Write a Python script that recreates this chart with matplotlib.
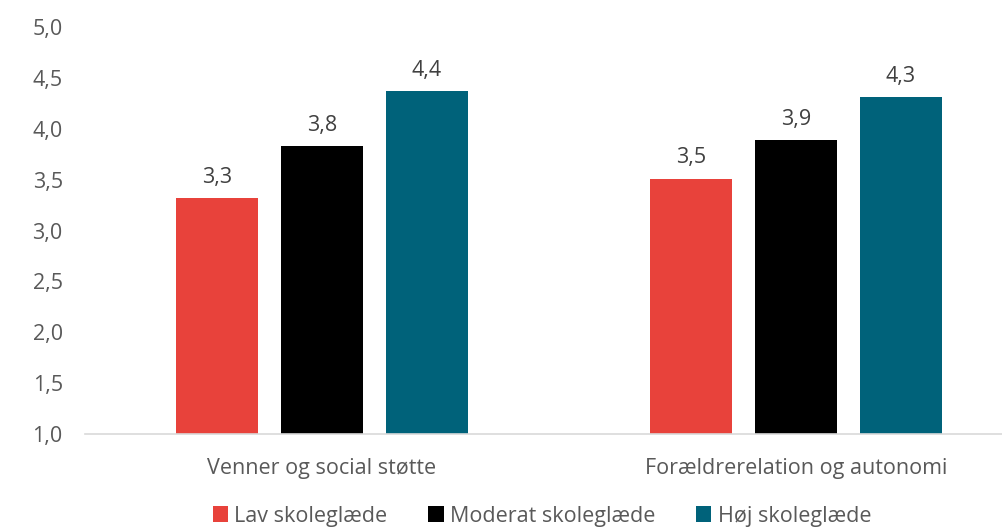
import numpy as np
import matplotlib.pyplot as plt

plt.rcParams['font.family'] = ['Open Sans', 'DejaVu Sans']

categories = ['Venner og social støtte', 'Forældrerelation og autonomi']
series = ['Lav skoleglæde', 'Moderat skoleglæde', 'Høj skoleglæde']
values = [
    [3.32, 3.51],  # lav
    [3.83, 3.89],  # moderat
    [4.37, 4.31],  # høj
]
colors = ['#E8423B', '#000000', '#00627A']
yticks = [1.0, 1.5, 2.0, 2.5, 3.0, 3.5, 4.0, 4.5, 5.0]

my_dpi = 100
fig = plt.figure(figsize=(1002/my_dpi, 529/my_dpi), dpi=my_dpi)
ax = fig.add_axes([85/1002, (529-434)/529, (1002-85)/1002, (434-27)/529])

x = np.arange(len(categories))
width = 0.173
step = 0.2215
for i, (vals, col, name) in enumerate(zip(values, colors, series)):
    pos = x + (i - 1)*step
    bars = ax.bar(pos, vals, width=width, color=col, label=name, zorder=2)
    for b, v in zip(bars, vals):
        ax.text(b.get_x() + b.get_width()/2, v + 0.1, '{:.1f}'.format(v).replace('.', ','),
                ha='center', va='bottom', fontsize=15.5, color='#404040')

ax.set_ylim(1.0, 5.0)
ax.set_xlim(-0.5, 1.5 - 31/474)
ax.set_yticks(yticks)
ax.set_yticklabels(['{:.1f}'.format(t).replace('.', ',') for t in yticks])
ax.set_xticks(x)
ax.set_xticklabels(categories)
ax.tick_params(axis='y', length=0, labelsize=15.5, labelcolor='#595959', pad=16)
ax.tick_params(axis='x', length=0, labelsize=15.5, labelcolor='#595959', pad=17)
for s in ['top', 'right', 'left']:
    ax.spines[s].set_visible(False)
ax.spines['bottom'].set_color('#D9D9D9')
ax.spines['bottom'].set_linewidth(1.2)

leg = fig.legend(loc='lower center', bbox_to_anchor=(0.541, -0.032), ncol=3, frameon=False,
                 fontsize=15.5, handlelength=0.7, handleheight=0.7, handletextpad=0.3,
                 columnspacing=1.9)
for t in leg.get_texts():
    t.set_color('#595959')

fig.savefig('out.png', dpi=my_dpi)
